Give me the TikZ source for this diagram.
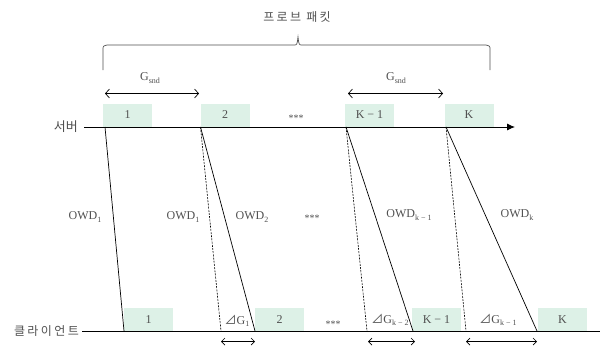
\documentclass[tikz,border=0pt]{standalone}
\usepackage{fontspec}
\setmainfont{Liberation Serif}
\newfontfamily\kr[LetterSpace=20]{Noto Sans CJK KR}
\newfontfamily\krsym{Noto Sans CJK KR}
\usetikzlibrary{arrows.meta}
\definecolor{boxfill}{HTML}{DDF1E7}
\definecolor{txt}{HTML}{505050}
\newcommand{\dG}{{\krsym ⊿}}
\newcommand{\lowsub}[1]{\raisebox{-2.5pt}{\fontsize{8}{9}\selectfont #1}}
\tikzset{
  pkt/.style={fill=boxfill, minimum width=49pt, minimum height=23pt, inner sep=0pt, text=txt},
  lbl/.style={text=txt, inner sep=1pt},
  axisline/.style={line width=0.9pt},
  owd/.style={line width=0.7pt},
  owddash/.style={line width=0.6pt, dash pattern=on 2pt off 1.2pt},
  gapbig/.style={line width=0.7pt, {Straight Barb[length=4pt,width=9pt]}-{Straight Barb[length=4pt,width=9pt]}},
  gapsmall/.style={line width=0.7pt, {Straight Barb[length=3.5pt,width=7pt]}-{Straight Barb[length=3.5pt,width=7pt]}},
  dots/.style={text=txt, font=\fontsize{10}{11}\selectfont, inner sep=0pt}
}
\begin{document}
\begin{tikzpicture}[x=1pt, y=-1pt, font=\fontsize{12}{14}\selectfont]
\useasboundingbox (0,0) rectangle (600,346);

% title and brace over the probe packets
\node[lbl, font=\kr\fontsize{12}{14}\selectfont] (title) at (297,17) {프로브 패킷};
\draw[line width=0.7pt, txt] (103,70) -- (103,50) .. controls (103,46) .. (107,45) -- (294,45)
  .. controls (297,45) .. (298,37) .. controls (299,45) .. (302,45) -- (486,45)
  .. controls (490,46) .. (490,50) -- (490,70);

% time axes
\coordinate (sstart) at (84,127);
\coordinate (send) at (515,127);
\coordinate (cstart) at (82,331);
\coordinate (cend) at (600,331);
\node[lbl, font=\krsym\fontsize{13}{15}\selectfont, anchor=east] (server) at (79,127) {서버};
\node[lbl, font=\kr\fontsize{12}{14}\selectfont, anchor=east] (client) at (80,331) {클라이언트};

% packets at the server
\node[pkt] (p1) at (127.5,115) {1};
\node[pkt] (p2) at (225,115) {2};
\node[pkt] (pk1) at (369.5,115) {K − 1};
\node[pkt] (pk) at (469,115) {K};
\node[dots] (sdots) at (296,118) {***};

% packets at the client
\node[pkt] (q1) at (148.5,319.5) {1};
\node[pkt] (q2) at (279.5,319.5) {2};
\node[pkt] (qk1) at (436.5,319.5) {K − 1};
\node[pkt] (qk) at (562.5,319.5) {K};
\node[dots] (cdots) at (333,324) {***};

\draw[axisline, -{Latex[length=8pt,width=7pt]}] (sstart) -- (send);
\draw[axisline] (cstart) -- (cend);

% send instants and arrival instants
\coordinate (s1) at (105,127);
\coordinate (s2) at (200.5,127);
\coordinate (sk1) at (346,127);
\coordinate (sk) at (446,127);
\coordinate (c1) at (124,331);
\coordinate (c2d) at (221,331);
\coordinate (c2) at (255,331);
\coordinate (ck1d) at (367,331);
\coordinate (ck1) at (413,331);
\coordinate (ckd) at (466,331);
\coordinate (ck) at (537,331);

\draw[owd] (s1) -- (c1);
\draw[owddash] (s2) -- (c2d);
\draw[owd] (s2) -- (c2);
\draw[owddash] (sk1) -- (ck1d);
\draw[owd] (sk1) -- (ck1);
\draw[owddash] (sk) -- (ckd);
\draw[owd] (sk) -- (ck);

% one-way delay labels
\node[lbl] (owd1a) at (85,217) {OWD\lowsub{1}};
\node[lbl] (owd1b) at (183,217) {OWD\lowsub{1}};
\node[lbl] (owd2) at (252,217) {OWD\lowsub{2}};
\node[dots] (mdots) at (312,218) {***};
\node[lbl] (owdk1) at (409,215) {OWD\lowsub{k − 1}};
\node[lbl] (owdk) at (517,215) {OWD\lowsub{k}};

% sending gaps
\coordinate (ga) at (105,93.5);
\coordinate (gb) at (199,93.5);
\coordinate (gc) at (348,93.5);
\coordinate (gd) at (443,93.5);
\draw[gapbig] (ga) -- (gb);
\draw[gapbig] (gc) -- (gd);
\node[lbl] (gsnd1) at (150,78) {G\lowsub{snd}};
\node[lbl] (gsnd2) at (396,78) {G\lowsub{snd}};

% arrival gap differences
\coordinate (ha) at (221,341.5);
\coordinate (hb) at (255,341.5);
\coordinate (hc) at (368,341.5);
\coordinate (hd) at (415,341.5);
\coordinate (he) at (466,341.5);
\coordinate (hf) at (537,341.5);
\draw[gapsmall] (ha) -- (hb);
\draw[gapsmall] (hc) -- (hd);
\draw[gapsmall] (he) -- (hf);
\node[lbl] (dg1) at (237,321) {\dG G\lowsub{1}};
\node[lbl] (dg2) at (390,320) {\dG G\lowsub{k − 2}};
\node[lbl] (dg3) at (498,320) {\dG G\lowsub{k − 1}};
\end{tikzpicture}
\end{document}
